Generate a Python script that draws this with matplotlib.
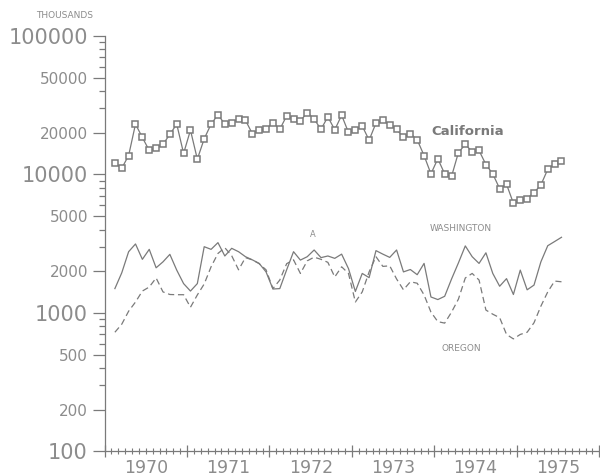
import matplotlib
matplotlib.use('Agg')
import matplotlib.pyplot as plt
import matplotlib.ticker as mticker
import numpy as np

# monthly series, Feb 1970 .. Jul 1975 (thousands)
years = ['1970', '1971', '1972', '1973', '1974', '1975']
california = [12100, 11100, 13700, 23100, 18500, 14900, 15500, 16500, 19500, 23100,
              14200, 20900, 12900, 18100, 23100, 27000, 23100, 23700, 25100, 24700,
              19700, 20900, 21200, 23700, 21200, 26500, 25100, 24400, 28000, 25100,
              21200, 26100, 21000, 26800, 20100, 21000, 22400, 17700, 23500, 24700,
              22700, 21200, 18500, 19700, 17800, 13700, 10100, 13000, 10100, 9700,
              14400, 16500, 14600, 14900, 11800, 10100, 7900, 8500, 6200, 6500,
              6700, 7400, 8400, 10900, 11900, 12500]
washington = [1500, 1950, 2770, 3150, 2440, 2880, 2120, 2340, 2650, 2040,
              1630, 1440, 1630, 3010, 2880, 3220, 2580, 2930, 2770, 2550,
              2420, 2280, 1980, 1490, 1500, 2050, 2770, 2410, 2550, 2850,
              2510, 2580, 2480, 2660, 2090, 1430, 1930, 1800, 2820, 2660,
              2520, 2850, 1980, 2060, 1890, 2280, 1305, 1250, 1320, 1760,
              2300, 3050, 2550, 2280, 2720, 1930, 1560, 1770, 1360, 2040,
              1470, 1590, 2340, 3060, 3280, 3520]
oregon = [726, 830, 1030, 1200, 1440, 1540, 1790, 1420, 1360, 1355,
          1355, 1100, 1350, 1620, 2155, 2690, 2960, 2590, 2050, 2510,
          2420, 2270, 2050, 1500, 1730, 2270, 2420, 1930, 2380, 2530,
          2440, 2320, 1820, 2155, 1930, 1200, 1420, 1980, 2550, 2170,
          2190, 1760, 1470, 1680, 1640, 1350, 1015, 866, 845, 1015,
          1260, 1790, 1930, 1730, 1050, 980, 925, 700, 650, 700,
          726, 850, 1120, 1420, 1700, 1680]

# months since Jan 1970, plotted mid-month
months = np.arange(len(california)) + 1.5
grey = '#7a7a7a'
tgrey = '#8c8c8c'

fig = plt.figure(figsize=(6, 4.76), dpi=100)
ax = fig.add_axes([0.1743, 0.0515, 0.8245, 0.8729])

ax.plot(months, california, color=grey, lw=0.9, marker='s', ms=4.2,
        mfc='white', mec=grey, mew=1.1)
ax.plot(months, washington, color=grey, lw=0.9)
ax.plot(months, oregon, color=grey, lw=0.9, dashes=(5, 3))

ax.set_yscale('log')
ax.set_ylim(100, 100000)
ax.set_xlim(0, 72)

for s in ['top', 'right']:
    ax.spines[s].set_visible(False)
for s in ['left', 'bottom']:
    ax.spines[s].set_color(grey)
    ax.spines[s].set_linewidth(0.9)

# y ticks
yt = [100, 200, 500, 1000, 2000, 5000, 10000, 20000, 50000, 100000]
ax.yaxis.set_major_locator(mticker.FixedLocator(yt))
ax.yaxis.set_minor_locator(mticker.LogLocator(base=10, subs=[3, 4, 6, 7, 8, 9]))
ax.yaxis.set_minor_formatter(mticker.NullFormatter())
ax.set_yticklabels([str(v) for v in yt])
for lab, v in zip(ax.get_yticklabels(), yt):
    if str(v).startswith('1'):
        lab.set_fontsize(15)
    else:
        lab.set_fontsize(11)
    lab.set_color(tgrey)
ax.tick_params(axis='y', which='major', direction='out', length=9, width=0.9,
               color=grey, pad=3)
ax.tick_params(axis='y', which='minor', direction='out', length=4.5, width=0.9,
               color=grey)

# x ticks: years and months
ax.set_xticks(np.arange(0, 73, 12))
ax.set_xticks(np.arange(0, 73, 1), minor=True)
ax.set_xticklabels([])
ax.tick_params(axis='x', which='major', direction='inout', length=9, width=0.9, color=grey)
ax.tick_params(axis='x', which='minor', direction='inout', length=5, width=0.8, color=grey)
trans = ax.get_xaxis_transform()
for k, yr in enumerate(years):
    ax.text(6 + 12 * k, -0.018, yr, transform=trans, ha='center', va='top',
            fontsize=12.5, color=tgrey)

# labels
fig.text(0.107, 0.968, 'THOUSANDS', ha='center', va='center', fontsize=6.5, color=tgrey)
ax.text(47.5, 20600, 'California', fontsize=9.5, fontweight='bold', color=grey,
        ha='left', va='center')
ax.text(47.3, 4070, 'WASHINGTON', fontsize=6.5, color=tgrey, ha='left', va='center')
ax.text(49.0, 556, 'OREGON', fontsize=6.5, color=tgrey, ha='left', va='center')
ax.text(30.3, 3680, 'A', fontsize=6, color=tgrey, ha='center', va='center')

plt.savefig('out.png', dpi=100)
